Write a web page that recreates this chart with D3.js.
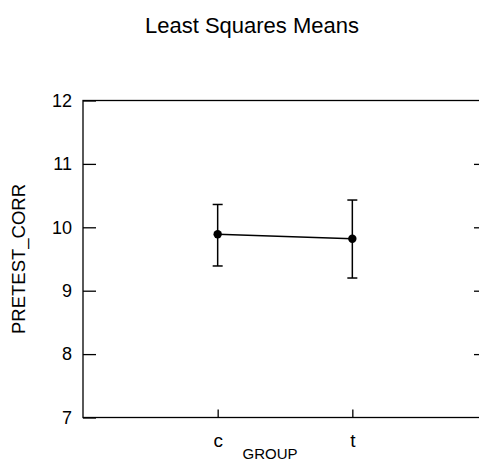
<!DOCTYPE html>
<html>
<head>
<meta charset="utf-8">
<script src="https://cdn.jsdelivr.net/npm/d3@7"></script>
<style>
  html, body { margin: 0; padding: 0; background: #fff; }
  svg { display: block; font-family: "Liberation Sans", Arial, sans-serif; }
</style>
</head>
<body>
<svg id="chart" width="479" height="461"></svg>
<script>
const groups = ["c", "t"];
const means = [9.89, 9.82];
const upper = [10.36, 10.43];
const lower = [9.39, 9.20];
const yTicks = [7, 8, 9, 10, 11, 12];

const svg = d3.select("#chart");
const pLeft = 83, pRight = 487, pTop = 100.5, pBottom = 417.5;

const x = d3.scaleLinear().domain([0, 3]).range([pLeft, pRight]);
const xPos = d => x(groups.indexOf(d) + 1);
const y = d3.scaleLinear().domain([7, 12]).range([pBottom, pTop]);

// frame
svg.append("rect")
  .attr("x", pLeft).attr("y", pTop)
  .attr("width", pRight - pLeft).attr("height", pBottom - pTop)
  .attr("fill", "none").attr("stroke", "#000").attr("stroke-width", 1.3);

// left axis
const yAxis = d3.axisLeft(y).tickValues(yTicks).tickSizeInner(-13).tickSizeOuter(0).tickPadding(11)
  .tickFormat(d3.format("d"));
const gy = svg.append("g").attr("transform", `translate(${pLeft},0)`).call(yAxis);
gy.select(".domain").remove();
gy.selectAll(".tick line").attr("stroke", "#000").attr("stroke-width", 1.3);
gy.selectAll(".tick text").attr("font-size", 18).attr("fill", "#000")
  .attr("font-family", "Liberation Sans, Arial, sans-serif");

// right inward ticks
const yAxisR = d3.axisRight(y).tickValues(yTicks.slice(1, -1)).tickSizeInner(-13).tickSizeOuter(0).tickFormat("");
const gyr = svg.append("g").attr("transform", `translate(${pRight},0)`).call(yAxisR);
gyr.select(".domain").remove();
gyr.selectAll(".tick line").attr("stroke", "#000").attr("stroke-width", 1.3);

// bottom axis
const xAxis = d3.axisBottom(x).tickValues([1, 2]).tickSizeInner(-8).tickSizeOuter(0).tickPadding(16)
  .tickFormat(d => groups[d - 1]);
const gx = svg.append("g").attr("transform", `translate(0,${pBottom})`).call(xAxis);
gx.select(".domain").remove();
gx.selectAll(".tick line").attr("stroke", "#000").attr("stroke-width", 1.3);
gx.selectAll(".tick text").attr("font-size", 19).attr("fill", "#000")
  .attr("font-family", "Liberation Sans, Arial, sans-serif");

// connecting line
const line = d3.line().x((d, i) => xPos(groups[i])).y(d => y(d));
svg.append("path").datum(means).attr("d", line)
  .attr("fill", "none").attr("stroke", "#000").attr("stroke-width", 1.5);

// error bars
const capW = 5;
groups.forEach((g, i) => {
  const cx = xPos(g);
  svg.append("line").attr("x1", cx).attr("x2", cx).attr("y1", y(upper[i])).attr("y2", y(lower[i]))
    .attr("stroke", "#000").attr("stroke-width", 1.5);
  [upper[i], lower[i]].forEach(v => {
    svg.append("line").attr("x1", cx - capW).attr("x2", cx + capW).attr("y1", y(v)).attr("y2", y(v))
      .attr("stroke", "#000").attr("stroke-width", 1.5);
  });
});

// points
svg.selectAll("circle.pt").data(means).enter().append("circle")
  .attr("class", "pt")
  .attr("cx", (d, i) => xPos(groups[i])).attr("cy", d => y(d)).attr("r", 4.2).attr("fill", "#000");

// title
svg.append("text").attr("x", 252).attr("y", 33).attr("text-anchor", "middle")
  .attr("font-size", 22).attr("fill", "#000").text("Least Squares Means");

// axis labels
svg.append("text").attr("x", 270).attr("y", 459).attr("text-anchor", "middle")
  .attr("font-size", 15).attr("fill", "#000").text("GROUP");
svg.append("text").attr("transform", `translate(24.5,${(pTop + pBottom) / 2}) rotate(-90)`)
  .attr("text-anchor", "middle").attr("font-size", 18.5).attr("fill", "#000").text("PRETEST_CORR");
</script>
</body>
</html>
